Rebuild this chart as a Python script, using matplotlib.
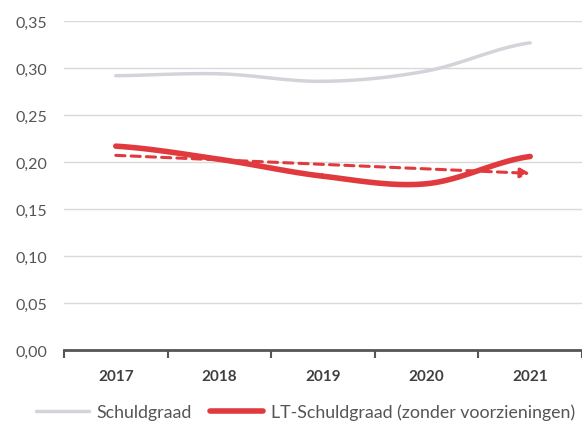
import numpy as np
import matplotlib.pyplot as plt
from matplotlib.ticker import FixedLocator, FuncFormatter

plt.rcParams['font.family'] = ['Lato', 'DejaVu Sans']

years = [2017, 2018, 2019, 2020, 2021]
schuldgraad = [0.292, 0.294, 0.286, 0.297, 0.327]
lt_schuldgraad = [0.217, 0.203, 0.185, 0.177, 0.206]
y_ticks = [0.00, 0.05, 0.10, 0.15, 0.20, 0.25, 0.30, 0.35]


def smooth(x, y, n=30):
    # Catmull-Rom style smoothing like Excel's "smoothed line"
    x = np.asarray(x, float)
    y = np.asarray(y, float)
    px = np.concatenate([[2 * x[0] - x[1]], x, [2 * x[-1] - x[-2]]])
    py = np.concatenate([[y[0]], y, [y[-1]]])
    xs, ys = [], []
    t = np.linspace(0, 1, n)
    for i in range(1, len(px) - 2):
        for p, out in ((px, xs), (py, ys)):
            p0, p1, p2, p3 = p[i - 1], p[i], p[i + 1], p[i + 2]
            out.extend(0.5 * ((2 * p1) + (-p0 + p2) * t
                              + (2 * p0 - 5 * p1 + 4 * p2 - p3) * t ** 2
                              + (-p0 + 3 * p1 - 3 * p2 + p3) * t ** 3))
    return np.array(xs), np.array(ys)


fig = plt.figure(figsize=(5.82, 4.27), dpi=100)
ax = fig.add_axes([0.110, 0.178, 0.89, 0.77])

red = '#e03a3e'
gx, gy = smooth(years, schuldgraad)
ax.plot(gx, gy, color='#d3d3da', lw=2.5, solid_capstyle='round', label='Schuldgraad')
rx, ry = smooth(years, lt_schuldgraad)
ax.plot(rx, ry, color=red, lw=4, solid_capstyle='round',
        label='LT-Schuldgraad (zonder voorzieningen)')

# linear trend line of LT-Schuldgraad
coef = np.polyfit(years, lt_schuldgraad, 1)
t0, t1 = np.polyval(coef, years[0]), np.polyval(coef, years[-1])
ax.annotate('', xy=(years[-1], t1), xytext=(years[0], t0),
            arrowprops=dict(arrowstyle='-|>', color=red, lw=2.2, ls=(0, (3, 2)),
                            mutation_scale=14, shrinkA=0, shrinkB=0))

ax.set_xlim(2016.5, 2021.5)
ax.set_ylim(0, 0.35)
ax.set_yticks(y_ticks)
ax.yaxis.set_major_formatter(FuncFormatter(lambda v, p: f'{v:.2f}'.replace('.', ',')))
ax.set_xticks(years)
ax.set_xticklabels([str(y) for y in years], fontweight='bold')
ax.xaxis.set_minor_locator(FixedLocator([2016.5 + k for k in range(6)]))
ax.tick_params(axis='x', which='major', length=0, pad=14, labelsize=11, labelcolor='#404040')
ax.tick_params(axis='x', which='minor', length=6, width=1.5, color='#555555', direction='out')
ax.tick_params(axis='y', length=0, pad=12, labelsize=11.5, labelcolor='#555555')

ax.grid(axis='y', color='#d9d9d9', lw=1)
ax.set_axisbelow(True)
for s in ['left', 'top', 'right']:
    ax.spines[s].set_visible(False)
ax.spines['bottom'].set_color('#555555')
ax.spines['bottom'].set_linewidth(2)

leg = fig.legend(loc='center', bbox_to_anchor=(0.525, 0.033), ncol=2, frameon=False,
                 fontsize=12.8, handlelength=3.0, columnspacing=1.0, handletextpad=0.45)
for t in leg.get_texts():
    t.set_color('#555555')

fig.savefig('out.png', dpi=100)
